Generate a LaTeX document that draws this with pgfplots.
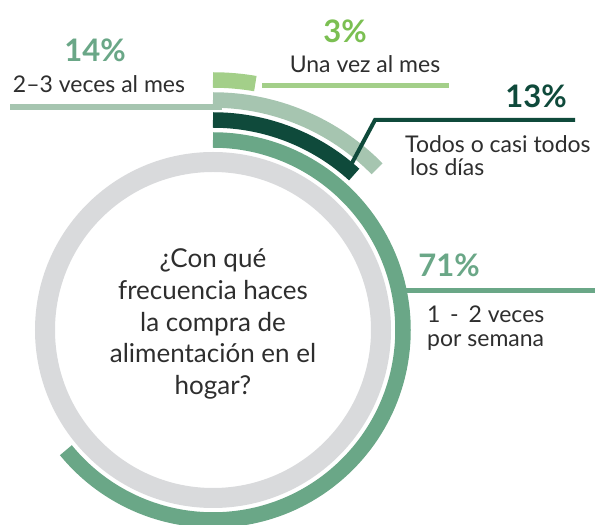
\documentclass[border=0pt]{standalone}
\usepackage{pgfplots}
\pgfplotsset{compat=1.18}
\usepackage{fontspec}
\setmainfont{Lato}

\definecolor{ringgray}{HTML}{D9DADC}
\definecolor{cweek}{HTML}{6AA787}
\definecolor{cdaily}{HTML}{0F4A3B}
\definecolor{cmonth}{HTML}{A6C5B0}
\definecolor{conce}{HTML}{A3CF89}
\definecolor{tonce}{HTML}{7BBF52}
\definecolor{txt}{HTML}{2E2E2E}

% 100% of a ring = 325 degrees, rings start at 12 o'clock and run clockwise
\newcommand{\ringarc}[3]{%
  \draw[#1, line width=15.5pt] (axis cs:213,{195+#2}) arc[start angle=90, delta angle={-3.25*#3}, radius=#2pt];}

\begin{document}
\begin{tikzpicture}
\begin{axis}[
  scale only axis,
  width=595pt, height=525pt,
  xmin=0, xmax=595, ymin=0, ymax=525,
  hide axis, clip=false,
]
  \draw[ringgray, line width=20pt] (axis cs:213,195) circle[radius=168pt];

  \ringarc{cweek}{190}{71}
  \ringarc{cdaily}{210}{13}
  \ringarc{cmonth}{230}{14}
  \ringarc{conce}{250}{3}

  % leader lines
  \draw[cmonth, line width=6pt] (axis cs:10,418) -- (axis cs:222,418);
  \draw[conce, line width=5pt] (axis cs:262,439) -- (axis cs:449,439);
  \draw[cdaily, line width=4pt] (axis cs:352,362) -- (axis cs:375,405) -- (axis cs:575,405);
  \draw[cweek, line width=5pt] (axis cs:400,234) -- (axis cs:595,234);

  % percentages
  \begin{scope}[every node/.style={anchor=base, inner sep=0pt, font=\fontsize{31}{34}\selectfont\bfseries}]
    \node[cweek] at (axis cs:95,463) {14\%};
    \node[tonce] at (axis cs:345,482) {3\%};
    \node[cdaily] at (axis cs:536,417) {13\%};
    \node[cweek] at (axis cs:449,248) {71\%};
  \end{scope}

  % category labels
  \begin{scope}[every node/.style={txt, inner sep=0pt, font=\fontsize{23}{26}\selectfont}]
    \node[anchor=base] at (axis cs:99,432) {2–3 veces al mes};
    \node[anchor=base] at (axis cs:365,452) {Una vez al mes};
    \node[anchor=base west] at (axis cs:405,372) {Todos o casi todos};
    \node[anchor=base west] at (axis cs:410,349) {los días};
    \node[anchor=base west] at (axis cs:427,202) {1 \,-\, 2 veces};
    \node[anchor=base west] at (axis cs:427,178) {por semana};
  \end{scope}

  % question in the middle
  \begin{scope}[every node/.style={txt, inner sep=0pt, anchor=base, font=\fontsize{26}{30}\selectfont}]
    \node at (axis cs:213,257) {¿Con qué};
    \node at (axis cs:213,225) {frecuencia haces};
    \node at (axis cs:213,193) {la compra de};
    \node at (axis cs:213,162) {alimentación en el};
    \node at (axis cs:213,130) {hogar?};
  \end{scope}
\end{axis}
\pgfresetboundingbox
\useasboundingbox (0,0) rectangle (595pt,525pt);
\end{tikzpicture}
\end{document}
